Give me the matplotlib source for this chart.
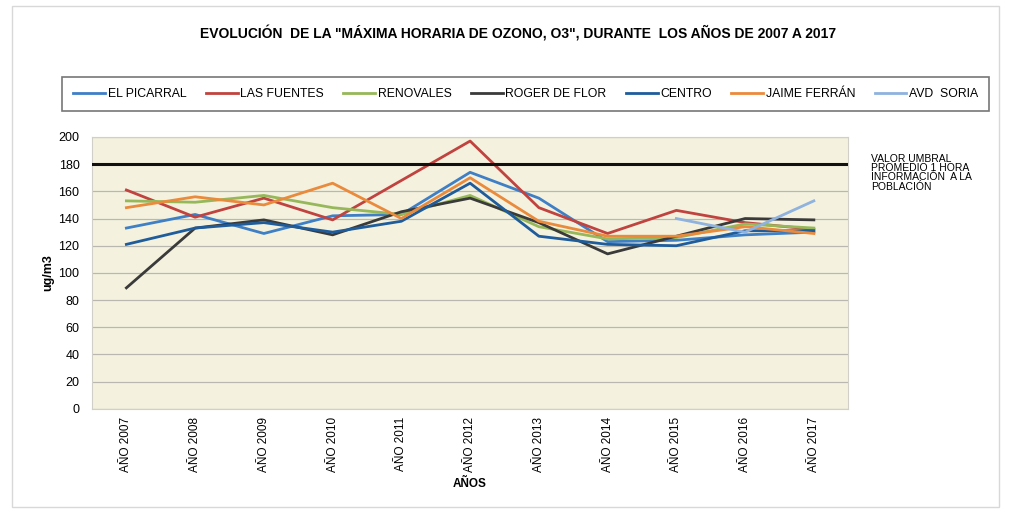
import numpy as np
import matplotlib
matplotlib.use("Agg")
import matplotlib.pyplot as plt
from matplotlib.patches import Rectangle

plt.rcParams['font.family'] = ['Liberation Sans', 'DejaVu Sans']

# datos
years = ['AÑO 2007', 'AÑO 2008', 'AÑO 2009', 'AÑO 2010', 'AÑO 2011', 'AÑO 2012',
         'AÑO 2013', 'AÑO 2014', 'AÑO 2015', 'AÑO 2016', 'AÑO 2017']
el_picarral = [133, 143, 129, 142, 143, 174, 155, 123, 124, 128, 130]
las_fuentes = [161, 141, 155, 139, 168, 197, 148, 129, 146, 137, 132]
renovales = [153, 152, 157, 148, 143, 157, 134, 125, 126, 136, 133]
roger_de_flor = [89, 133, 139, 128, 145, 155, 137, 114, 127, 140, 139]
centro = [121, 133, 137, 130, 138, 166, 127, 121, 120, 131, 131]
jaime_ferran = [148, 156, 150, 166, 140, 170, 138, 127, 127, 134, 129]
avd_soria = [None, None, None, None, None, None, None, None, 140, 130, 153]
umbral = 180

series = [
    ('EL PICARRAL', el_picarral, '#3f7fc6'),
    ('LAS FUENTES', las_fuentes, '#c0433f'),
    ('RENOVALES', renovales, '#96b85a'),
    ('ROGER DE FLOR', roger_de_flor, '#3a3a3a'),
    ('CENTRO', centro, '#1f5c9c'),
    ('JAIME FERRÁN', jaime_ferran, '#ea8a3c'),
    ('AVD  SORIA', avd_soria, '#8fb2de'),
]

fig = plt.figure(figsize=(10.11, 5.13), dpi=100)
fig.patch.set_facecolor('white')

# marco exterior
fig.patches.append(Rectangle((0.012, 0.012), 0.976, 0.976, transform=fig.transFigure,
                             fill=False, edgecolor='#d8d8d8', linewidth=1))

ax = fig.add_axes([0.091, 0.203, 0.748, 0.530])
ax.set_facecolor('#f4f2de')

x = np.arange(len(years))
handles = []
for name, vals, color in series:
    y = np.array([np.nan if v is None else v for v in vals], dtype=float)
    h, = ax.plot(x, y, color=color, lw=2, label=name)
    handles.append(h)

ax.axhline(umbral, color='#111111', lw=2.2, zorder=3)

ax.set_xlim(-0.5, len(years) - 0.5)
ax.set_ylim(0, 200)
ax.set_yticks(np.arange(0, 201, 20))
ax.yaxis.grid(True, color='#b8b8b0', lw=0.9)
ax.set_axisbelow(True)
ax.set_xticks(x)
ax.set_xticklabels(years, rotation=90, fontsize=8.5)
ax.tick_params(axis='y', labelsize=9, length=0, pad=9)
ax.tick_params(axis='x', length=0, pad=6)
for s in ax.spines.values():
    s.set_color('#d0d0c8')
    s.set_linewidth(0.8)

ax.set_ylabel('ug/m3', fontsize=9, fontweight='bold', labelpad=3)
ax.set_xlabel('AÑOS', fontsize=8.5, fontweight='bold', labelpad=4)

fig.text(0.512, 0.935, 'EVOLUCIÓN  DE LA "MÁXIMA HORARIA DE OZONO, O3", DURANTE  LOS AÑOS DE 2007 A 2017',
         ha='center', va='center', fontsize=10, fontweight='bold')

fig.text(0.862, 0.700, 'VALOR UMBRAL\nPROMEDIO 1 HORA\nINFORMACIÓN  A LA\nPOBLACIÓN',
         ha='left', va='top', fontsize=7.5, linespacing=0.9)

leg = fig.legend(handles=handles, loc='center', bbox_to_anchor=(0.520, 0.816), ncol=7,
                 fontsize=8.8, frameon=True, fancybox=False, handlelength=2.6,
                 handletextpad=0.2, columnspacing=1.6, borderpad=0.9)
leg.get_frame().set_edgecolor('#555555')
leg.get_frame().set_linewidth(1.2)

fig.savefig('out.png', dpi=100)
